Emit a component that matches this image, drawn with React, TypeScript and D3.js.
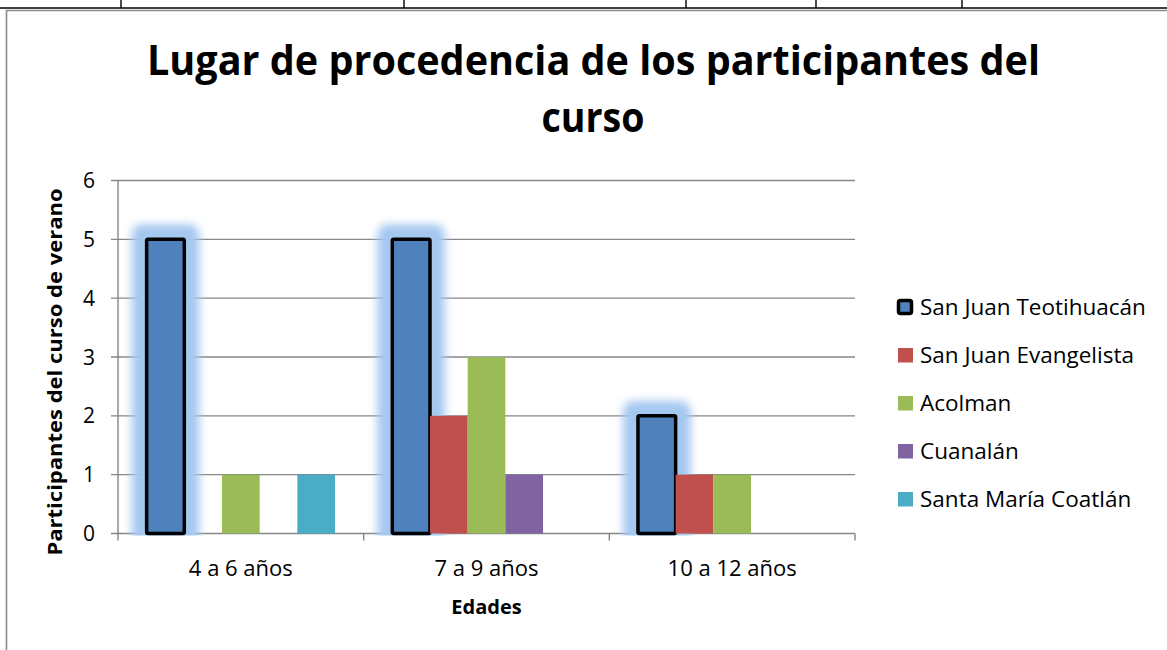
import React from "react";
import * as d3 from "d3";

const categories = ["4 a 6 años", "7 a 9 años", "10 a 12 años"];
const seriesNames = [
  "San Juan Teotihuacán",
  "San Juan Evangelista",
  "Acolman",
  "Cuanalán",
  "Santa María Coatlán",
];
const seriesColors = ["#4F81BD", "#C0504D", "#9BBB59", "#8064A2", "#4BACC6"];
const teotihuacan = [5, 5, 2];
const evangelista = [0, 2, 1];
const acolman = [1, 3, 1];
const cuanalan = [0, 1, 0];
const coatlan = [1, 0, 0];
const seriesValues = [teotihuacan, evangelista, acolman, cuanalan, coatlan];
const yTicks = [0, 1, 2, 3, 4, 5, 6];
const titleLines = ["Lugar de procedencia de los participantes del", "curso"];
const yTitle = "Participantes del curso de verano";
const xTitle = "Edades";
const tableLinesX = [121, 404, 686, 816, 962];

const W = 1167;
const H = 650;
const plotLeft = 118;
const plotRight = 855;
const plotTop = 180.5;
const plotBottom = 533.5;
const FONT = "'Open Sans', 'Noto Sans', sans-serif";

export default function App() {
  const x0 = d3.scaleBand<string>().domain(categories).range([plotLeft, plotRight]).padding(0);
  const x1 = d3
    .scaleBand<number>()
    .domain(seriesNames.map((_, i) => i))
    .range([0, x0.bandwidth()])
    .paddingInner(0)
    .paddingOuter(0.76);
  const y = d3.scaleLinear().domain([0, 6]).range([plotBottom, plotTop]);

  const bars: { s: number; c: number; v: number }[] = [];
  seriesValues.forEach((vals, s) =>
    vals.forEach((v, c) => {
      if (v > 0) bars.push({ s, c, v });
    })
  );
  const glowBars = bars.filter((b) => b.s === 0);
  const gridColor = "#868686";
  const bw = x1.bandwidth();
  const G = 15;

  return (
    <div style={{ position: "fixed", left: 0, top: 0, width: W, height: H, background: "#fff" }}>
      <svg width={W} height={H} style={{ display: "block" }}>
        <defs>
          <filter id="glow" filterUnits="userSpaceOnUse" x={0} y={0} width={W} height={H}>
            <feGaussianBlur in="SourceGraphic" stdDeviation={4.5} />
          </filter>
          <clipPath id="plotClip">
            <rect x={0} y={0} width={W} height={plotBottom + 2} />
          </clipPath>
        </defs>

        {/* table fragment at top */}
        <line x1={0} x2={W} y1={8} y2={8} stroke="#000" strokeWidth={1.6} />
        {tableLinesX.map((tx) => (
          <line key={tx} x1={tx} x2={tx} y1={0} y2={8} stroke="#000" strokeWidth={1.4} />
        ))}
        {/* chart frame */}
        <path d={`M${W + 5},10.5 H6.5 V${H + 5}`} fill="none" stroke="#8c8c8c" strokeWidth={1.6} />

        {/* title */}
        <text
          x={593.5}
          y={75}
          textAnchor="middle"
          fontFamily={FONT}
          fontWeight="bold"
          fontSize={41}
          textLength={893}
          lengthAdjust="spacingAndGlyphs"
          fill="#000"
        >
          {titleLines[0]}
        </text>
        <text
          x={593}
          y={132}
          textAnchor="middle"
          fontFamily={FONT}
          fontWeight="bold"
          fontSize={41}
          textLength={103}
          lengthAdjust="spacingAndGlyphs"
          fill="#000"
        >
          {titleLines[1]}
        </text>

        {/* gridlines and y ticks */}
        {yTicks.map((t) => (
          <g key={t}>
            <line x1={plotLeft - 7} x2={plotRight} y1={y(t)} y2={y(t)} stroke={gridColor} strokeWidth={1.4} />
            <text
              x={95}
              y={y(t)}
              dy="0.36em"
              textAnchor="end"
              fontFamily={FONT}
              fontSize={21}
              fill="#000"
            >
              {t}
            </text>
          </g>
        ))}
        {/* y axis */}
        <line x1={plotLeft} x2={plotLeft} y1={plotTop} y2={plotBottom} stroke={gridColor} strokeWidth={1.4} />
        {/* x ticks */}
        {[...categories.map((c) => x0(c) as number), plotRight].map((tx, i) => (
          <line key={i} x1={tx} x2={tx} y1={plotBottom} y2={plotBottom + 7} stroke={gridColor} strokeWidth={1.4} />
        ))}

        {/* glows */}
        <g clipPath="url(#plotClip)">
          <g filter="url(#glow)">
            {glowBars.map((b) => {
              const bx = (x0(categories[b.c]) as number) + (x1(b.s) as number);
              const by = y(b.v);
              return (
                <rect
                  key={`g${b.c}`}
                  x={bx - G}
                  y={by - G}
                  width={bw + 2 * G}
                  height={plotBottom - by + 2 * G}
                  rx={10}
                  fill="#A4C8F0"
                />
              );
            })}
          </g>
        </g>

        {/* bars */}
        {bars.map((b) => {
          const bx = (x0(categories[b.c]) as number) + (x1(b.s) as number);
          const by = y(b.v);
          const isMain = b.s === 0;
          return (
            <rect
              key={`${b.s}-${b.c}`}
              x={bx}
              y={by}
              width={bw}
              height={plotBottom - by}
              fill={seriesColors[b.s]}
              stroke={isMain ? "#000" : "none"}
              strokeWidth={isMain ? 3.5 : 0}
              strokeLinejoin="round"
              rx={isMain ? 1.5 : 0}
            />
          );
        })}

        {/* x tick labels */}
        {categories.map((c) => (
          <text
            key={c}
            x={(x0(c) as number) + x0.bandwidth() / 2}
            y={576}
            textAnchor="middle"
            fontFamily={FONT}
            fontSize={22}
            fill="#000"
          >
            {c}
          </text>
        ))}

        {/* axis titles */}
        <text
          x={(plotLeft + plotRight) / 2}
          y={614}
          textAnchor="middle"
          fontFamily={FONT}
          fontWeight="bold"
          fontSize={20}
          fill="#000"
        >
          {xTitle}
        </text>
        <text
          transform={`translate(62,372) rotate(-90)`}
          textAnchor="middle"
          fontFamily={FONT}
          fontWeight="bold"
          fontSize={20}
          textLength={367}
          lengthAdjust="spacingAndGlyphs"
          fill="#000"
        >
          {yTitle}
        </text>

        {/* legend */}
        {seriesNames.map((name, i) => {
          const cy = 307 + i * 48;
          return (
            <g key={name}>
              {i === 0 ? (
                <rect x={898.5} y={cy - 6.5} width={13} height={13} fill={seriesColors[i]} stroke="#000" strokeWidth={3.5} rx={2} />
              ) : (
                <rect x={898} y={cy - 7} width={15} height={14.5} fill={seriesColors[i]} />
              )}
              <text x={920} y={cy} dy="0.36em" fontFamily={FONT} fontSize={22.5} fill="#000">
                {name}
              </text>
            </g>
          );
        })}
      </svg>
    </div>
  );
}
